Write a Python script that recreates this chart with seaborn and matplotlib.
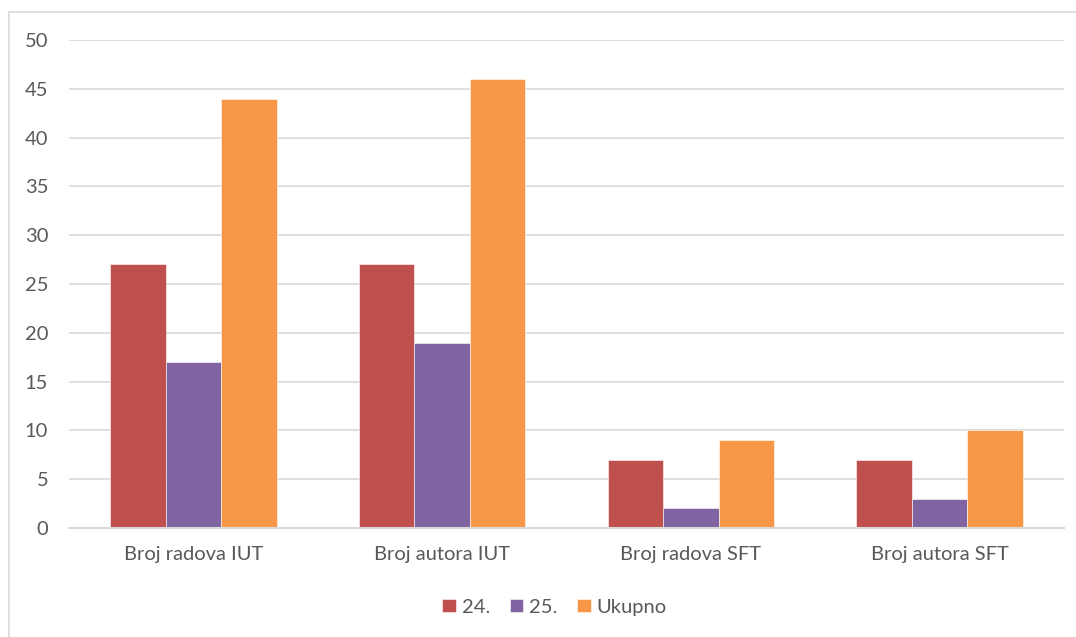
import pandas as pd
import matplotlib.pyplot as plt
import seaborn as sns
from matplotlib.lines import Line2D

# podaci sa grafikona
kategorije = ['Broj radova IUT', 'Broj autora IUT', 'Broj radova SFT', 'Broj autora SFT']
serije = ['24.', '25.', 'Ukupno']
vrijednosti_24 = [27, 27, 7, 7]
vrijednosti_25 = [17, 19, 2, 3]
vrijednosti_ukupno = [44, 46, 9, 10]
y_ticks = [0, 5, 10, 15, 20, 25, 30, 35, 40, 45, 50]

boje = ['#C0504D', '#8064A2', '#F79646']
siva = '#595959'
linija = '#D9D9D9'

df = pd.DataFrame({
    'Kategorija': kategorije * 3,
    'Serija': [serije[0]] * 4 + [serije[1]] * 4 + [serije[2]] * 4,
    'Vrijednost': vrijednosti_24 + vrijednosti_25 + vrijednosti_ukupno,
})

sns.set_style('white')
plt.rcParams['font.family'] = ['Lato', 'DejaVu Sans']

fig = plt.figure(figsize=(10.76, 6.37), dpi=100)
ax = fig.add_axes([69 / 1076, 1 - 528 / 637, (1064 - 69) / 1076, (528 - 40) / 637])

sns.barplot(data=df, x='Kategorija', y='Vrijednost', hue='Serija', hue_order=serije,
            order=kategorije, palette=boje, width=0.67, gap=0, saturation=1,
            edgecolor='white', linewidth=0.4, ax=ax)

ax.set_ylim(0, 50)
ax.set_yticks(y_ticks)
ax.set_xlim(-0.5, 3.5)
ax.yaxis.grid(True, color=linija, linewidth=1.2)
ax.set_axisbelow(True)
for s in ['top', 'right', 'left']:
    ax.spines[s].set_visible(False)
ax.spines['bottom'].set_color(linija)
ax.spines['bottom'].set_linewidth(1.5)
ax.tick_params(axis='y', length=0, pad=15, labelsize=14.5, labelcolor=siva)
ax.tick_params(axis='x', length=0, pad=13, labelsize=14.5, labelcolor=siva)
ax.set_xlabel('')
ax.set_ylabel('')

ax.legend(loc='center', bbox_to_anchor=(0.488, -0.162), ncol=3, frameon=False,
          fontsize=14.5, labelcolor=siva, handlelength=0.65, handleheight=0.65,
          handletextpad=0.3, columnspacing=1.0)

# okvir grafikona
fig.add_artist(Line2D([9 / 1076, 9 / 1076], [0, 1 - 12 / 637], color=linija, linewidth=1.2))
fig.add_artist(Line2D([9 / 1076, 1], [1 - 12 / 637, 1 - 12 / 637], color=linija, linewidth=1.2))

fig.savefig('out.png', dpi=100)
